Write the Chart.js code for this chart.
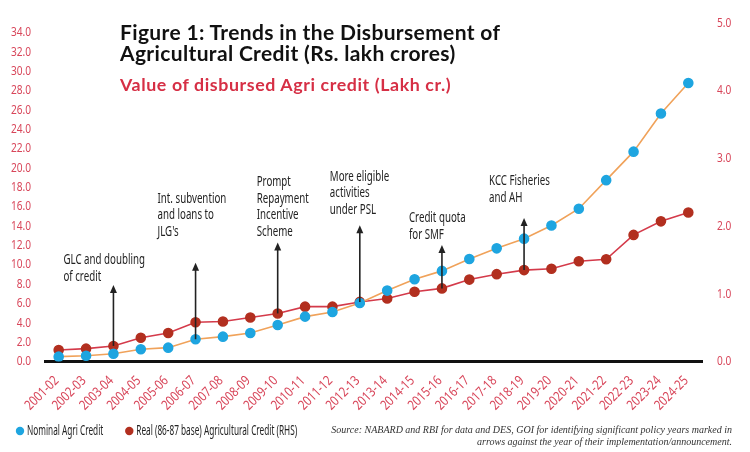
<!DOCTYPE html>
<html>
<head>
<meta charset="utf-8">
<script src="https://cdn.jsdelivr.net/npm/chart.js@4.4.1/dist/chart.umd.min.js"></script>
<style>
  html, body { margin: 0; padding: 0; background: #fff; }
  #wrap { position: relative; width: 750px; height: 452px; }
  .title { position: absolute; left: 120px; top: 22px; font-family: Lato, "Open Sans", sans-serif;
           font-weight: 700; font-size: 21px; line-height: 20.5px; color: #111; letter-spacing: 0.35px; }
  .subtitle { position: absolute; left: 120px; top: 73px; font-family: Lato, "Open Sans", sans-serif;
              font-weight: 700; font-size: 17.8px; color: #d62f45; letter-spacing: 0.6px; }
  .source { position: absolute; right: 18px; top: 424px; font-family: "Liberation Serif", serif;
            font-style: italic; font-size: 10px; line-height: 11.5px; color: #333; text-align: right; }
</style>
</head>
<body>
<div id="wrap">
  <canvas id="myChart" width="750" height="452"></canvas>
  <div class="title">Figure 1: Trends in the Disbursement of<br>Agricultural Credit (Rs. lakh crores)</div>
  <div class="subtitle">Value of disbursed Agri credit (Lakh cr.)</div>
  <div class="source">Source: NABARD and RBI for data and DES, GOI for identifying significant policy years marked in<br>arrows against the year of their implementation/announcement.</div>
</div>
<script>
// Years on the x axis
const years = ["2001-02", "2002-03", "2003-04", "2004-05", "2005-06", "2006-07", "2007-08", "2008-09",
  "2009-10", "2010-11", "2011-12", "2012-13", "2013-14", "2014-15", "2015-16", "2016-17",
  "2017-18", "2018-19", "2019-20", "2020-21", "2021-22", "2022-23", "2023-24", "2024-25"];

// Nominal agri credit, lakh crore (left axis)
const nominalCredit = [0.5, 0.6, 0.8, 1.26, 1.43, 2.3, 2.57, 2.95, 3.78, 4.64, 5.12, 6.05,
  7.33, 8.5, 9.37, 10.6, 11.7, 12.7, 14.06, 15.8, 18.75, 21.7, 25.65, 28.8];

// Real (86-87 base) agricultural credit, lakh crore (right axis)
const realCredit = [0.17, 0.19, 0.23, 0.35, 0.42, 0.58, 0.59, 0.65, 0.71, 0.81, 0.81, 0.88,
  0.93, 1.03, 1.08, 1.21, 1.29, 1.35, 1.37, 1.48, 1.51, 1.87, 2.07, 2.2];

// Tick labels
const leftTicks = [0, 2, 4, 6, 8, 10, 12, 14, 16, 18, 20, 22, 24, 26, 28, 30, 32, 34];
const rightTicks = [0, 1, 2, 3, 4, 5];

// Policy annotations: year, text, where the arrow starts, arrow tip and text (left axis units)
const policyYears = ["2003-04", "2006-07", "2009-10", "2012-13", "2015-16", "2018-19"];
const policyText = [
  ["GLC and doubling", "of credit"],
  ["Int. subvention", "and loans to", "JLG's"],
  ["Prompt", "Repayment", "Incentive", "Scheme"],
  ["More eligible", "activities", "under PSL"],
  ["Credit quota", "for SMF"],
  ["KCC Fisheries", "and AH"]
];
const policyFrom = ["real", "nominal", "real", "real", "real", "real"];
const policyTip = [7.9, 10.2, 12.3, 14.1, 12.05, 14.85];
const policyTextAt = [8.75, 13.4, 13.4, 15.7, 13.1, 16.9];
const policyTextDx = [-50, -38, -21, -30, -33, -35];

const narrowFont = '"Noto Sans", Roboto, sans-serif';
const tickRed = '#d8465a';

// No condensed face is installed, so squeeze the text horizontally
function narrowText(ctx, text, x, y, size, squeeze, align, color, angle) {
  ctx.save();
  ctx.translate(x, y);
  if (angle) ctx.rotate(angle);
  ctx.scale(squeeze, 1);
  ctx.font = size + 'px ' + narrowFont;
  ctx.fillStyle = color;
  ctx.textAlign = align;
  ctx.textBaseline = 'middle';
  ctx.fillText(text, 0, 0);
  const w = ctx.measureText(text).width * squeeze;
  ctx.restore();
  return w;
}

// Tick labels and legend, placed from the chart's scales
const narrowLabels = {
  id: 'narrowLabels',
  afterDraw(chart) {
    const ctx = chart.ctx;
    const x = chart.scales.x;
    const yL = chart.scales.yLeft;
    const yR = chart.scales.yRight;
    leftTicks.forEach(v => {
      narrowText(ctx, v.toFixed(1), yL.right - 14, yL.getPixelForValue(v), 13, 0.78, 'right', tickRed);
    });
    rightTicks.forEach(v => {
      narrowText(ctx, v.toFixed(1), yR.left + 15, yR.getPixelForValue(v), 13, 0.78, 'left', tickRed);
    });
    years.forEach((yr, i) => {
      const px = x.getPixelForValue(i);
      narrowText(ctx, yr, px - 2, x.top + 17, 13.5, 0.82, 'right', tickRed, -Math.PI / 4);
    });

    // legend
    let lx = 20;
    const ly = 431;
    chart.data.datasets.forEach(ds => {
      ctx.beginPath();
      ctx.fillStyle = ds.pointBackgroundColor;
      ctx.arc(lx, ly, 4.2, 0, Math.PI * 2);
      ctx.fill();
      const w = narrowText(ctx, ds.label, lx + 7, ly, 13.5, 0.61, 'left', '#222');
      lx += 7 + w + 26;
    });
  }
};

// Draws the arrows and their notes from the scales
const policyArrows = {
  id: 'policyArrows',
  afterDatasetsDraw(chart) {
    const ctx = chart.ctx;
    const x = chart.scales.x;
    const yL = chart.scales.yLeft;
    const yR = chart.scales.yRight;
    ctx.save();
    policyYears.forEach((yr, i) => {
      const idx = years.indexOf(yr);
      const px = x.getPixelForValue(idx);
      const yStart = policyFrom[i] === 'real' ? yR.getPixelForValue(realCredit[idx]) : yL.getPixelForValue(nominalCredit[idx]);
      const yTip = yL.getPixelForValue(policyTip[i]);
      ctx.strokeStyle = '#222';
      ctx.fillStyle = '#222';
      ctx.lineWidth = 1.6;
      ctx.beginPath();
      ctx.moveTo(px, yStart);
      ctx.lineTo(px, yTip + 6);
      ctx.stroke();
      ctx.beginPath();
      ctx.moveTo(px, yTip);
      ctx.lineTo(px - 3.5, yTip + 8);
      ctx.lineTo(px + 3.5, yTip + 8);
      ctx.closePath();
      ctx.fill();

      const lines = policyText[i];
      const lastY = yL.getPixelForValue(policyTextAt[i]);
      lines.forEach((t, j) => {
        narrowText(ctx, t, px + policyTextDx[i], lastY - (lines.length - 1 - j) * 16.5, 13.5, 0.72, 'left', '#222');
      });
    });
    ctx.restore();
  }
};

const ctx = document.getElementById('myChart').getContext('2d');
new Chart(ctx, {
  type: 'line',
  data: {
    labels: years,
    datasets: [
      {
        label: 'Nominal Agri Credit',
        data: nominalCredit,
        yAxisID: 'yLeft',
        borderColor: '#f0a25a',
        backgroundColor: '#1ea5e0',
        borderWidth: 1.6,
        pointBackgroundColor: '#1ea5e0',
        pointBorderColor: '#1ea5e0',
        pointRadius: 4.5,
        pointHoverRadius: 4.5,
        tension: 0
      },
      {
        label: 'Real (86-87 base) Agricultural Credit (RHS)',
        data: realCredit,
        yAxisID: 'yRight',
        borderColor: '#d43a4a',
        backgroundColor: '#b22f1f',
        borderWidth: 1.6,
        pointBackgroundColor: '#b22f1f',
        pointBorderColor: '#b22f1f',
        pointRadius: 4.5,
        pointHoverRadius: 4.5,
        tension: 0
      }
    ]
  },
  options: {
    responsive: false,
    animation: false,
    layout: { padding: { top: 23, bottom: 0, left: 0, right: 0 } },
    plugins: {
      legend: { display: false },
      tooltip: { enabled: false }
    },
    scales: {
      x: {
        offset: true,
        grid: { display: false, drawTicks: false },
        border: { display: true, color: '#111', width: 3 },
        ticks: { display: false },
        afterFit: (scale) => { scale.height = 90.5; }
      },
      yLeft: {
        type: 'linear',
        position: 'left',
        min: 0,
        max: 35,
        grid: { display: false, drawTicks: false },
        border: { display: false },
        ticks: { display: false },
        afterFit: (scale) => { scale.width = 45; }
      },
      yRight: {
        type: 'linear',
        position: 'right',
        min: 0,
        max: 5,
        grid: { display: false, drawTicks: false },
        border: { display: false },
        ticks: { display: false },
        afterFit: (scale) => { scale.width = 48; }
      }
    }
  },
  plugins: [policyArrows, narrowLabels]
});
</script>
</body>
</html>
